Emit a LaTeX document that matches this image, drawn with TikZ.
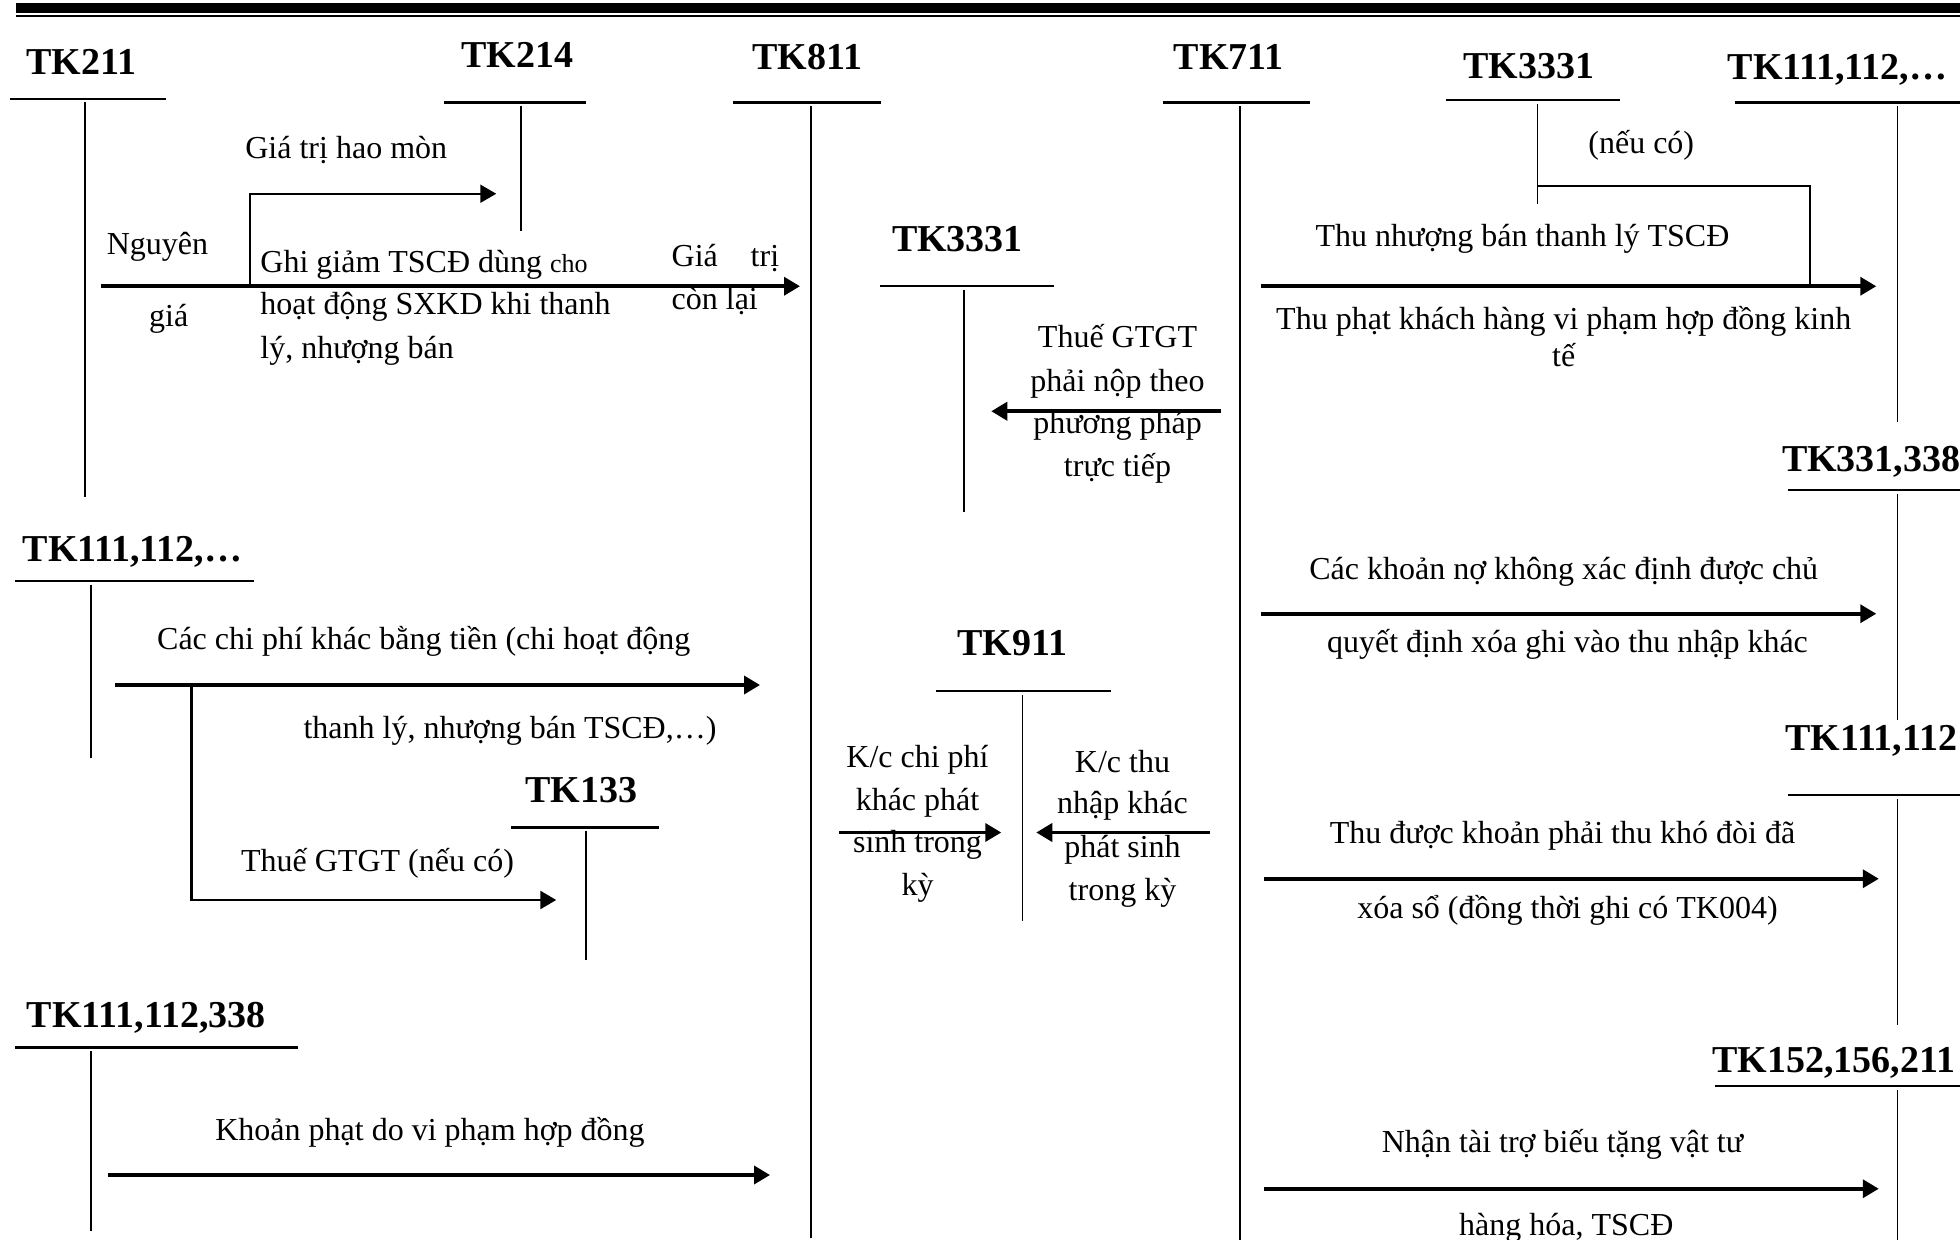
\documentclass[tikz,border=0pt]{standalone}
\usepackage{fontspec}
\setmainfont{Liberation Serif}
\usetikzlibrary{arrows.meta}

% fonts
\newcommand\hdfont{\fontsize{19pt}{22pt}\selectfont\bfseries}
\newcommand\bdfont{\fontsize{16pt}{19pt}\selectfont}

% T-account: name, title, title x, title baseline y, rule left x, rule right x, rule y, stem x, stem bottom y
\newcommand\tacct[9]{%
  \node[hd] (#1) at (#3,#4) {#2};
  \coordinate (#1-l) at (#5,#7);
  \coordinate (#1-r) at (#6,#7);
  \coordinate (#1-t) at (#8,#7+3);
  \coordinate (#1-b) at (#8,#9);
  \draw[uline] (#1-l) -- (#1-r);
  \draw[vline] (#1-t) -- (#1-b);}

\tikzset{
  hd/.style={font=\hdfont, anchor=base, inner sep=0pt},
  lab/.style={font=\bdfont, anchor=base, inner sep=0pt},
  labw/.style={lab, anchor=base west},
  uline/.style={line width=1.2pt},
  vline/.style={line width=0.8pt},
  flow/.style={line width=1.8pt, -{Triangle[length=8pt,width=9pt]}},
  bent/.style={line width=1.1pt, -{Triangle[length=8pt,width=9pt]}},
  tie/.style={line width=0.8pt}
}

\begin{document}
\begin{tikzpicture}[x=0.625pt, y=-0.625pt]
\useasboundingbox (0,0) rectangle (1568,992);

% header rules
\fill (13,2.6) rectangle (1568,10.4);
\fill (13,11.8) rectangle (1568,13.6);

% ---- T-accounts ----
\tacct{a211}{TK211}{65}{60}{8}{133}{79}{68}{398}
\tacct{a214}{TK214}{414}{54}{355}{469}{82}{417}{185}
\tacct{a811}{TK811}{646}{56}{586}{705}{82}{649}{990}
\tacct{a711}{TK711}{983}{56}{930}{1048}{82}{992}{992}
\tacct{a3331t}{TK3331}{1223}{63}{1157}{1296}{80}{1230}{163}
\tacct{a111t}{TK111,112,\ldots}{1470}{64}{1388}{1568}{82}{1518}{338}
\tacct{a3331m}{TK3331}{766}{201}{704}{843}{229}{771}{410}
\tacct{a331}{TK331,338}{1497}{377}{1430}{1568}{392}{1518}{576}
\tacct{a111l}{TK111,112,\ldots}{106}{449}{12}{203}{465}{73}{606}
\tacct{a911}{TK911}{810}{524}{749}{889}{553}{818}{737}
\tacct{a111r}{TK111,112}{1497}{600}{1430}{1568}{636}{1518}{820}
\tacct{a133}{TK133}{465}{642}{409}{527}{662}{469}{768}
\tacct{a338}{TK111,112,338}{117}{822}{12}{238}{838}{73}{985}
\tacct{a152}{TK152,156,211}{1467}{858}{1372}{1568}{869}{1518}{992}

% ---- entries: disposal of fixed assets ----
\coordinate (p1s) at (81,229);   \coordinate (p1e) at (640,229);
\draw[flow] (p1s) -- (p1e);
\coordinate (p2s) at (200,229);  \coordinate (p2e) at (397,155);
\draw[bent] (p2s) |- (p2e);
\node[lab] (l-hm) at (277,127) {Giá trị hao mòn};
\node[lab] (l-ng1) at (126,204) {Nguyên};
\node[lab] (l-ng2) at (135,261) {giá};
\node[labw] (l-gg1) at (208,218) {Ghi giảm TSCĐ dùng {\fontsize{13pt}{15pt}\selectfont cho}};
\node[labw] (l-gg2) at (208,252) {hoạt động SXKD khi thanh};
\node[labw] (l-gg3) at (208,287) {lý, nhượng bán};
\node[labw] (l-gt1) at (537,213) {\makebox[53.75pt][s]{Giá\hfill trị}};
\node[labw] (l-gt2) at (537,248) {còn lại};

% ---- VAT payable, direct method ----
\coordinate (p3s) at (977,329);  \coordinate (p3e) at (793,329);
\draw[flow] (p3s) -- (p3e);
\node[lab] (l-vt1) at (894,278) {Thuế GTGT};
\node[lab] (l-vt2) at (894,313) {phải nộp theo};
\node[lab] (l-vt3) at (894,347) {phương pháp};
\node[lab] (l-vt4) at (894,381) {trực tiếp};

% ---- proceeds from disposal ----
\coordinate (p4a) at (1230,149); \coordinate (p4b) at (1448,229);
\draw[tie] (p4a) -| (p4b);
\coordinate (p5s) at (1009,229); \coordinate (p5e) at (1501,229);
\draw[flow] (p5s) -- (p5e);
\node[lab] (l-nc) at (1313,123) {(nếu có)};
\node[lab] (l-tn) at (1218,197) {Thu nhượng bán thanh lý TSCĐ};
\node[lab] (l-tp1) at (1251,264) {Thu phạt khách hàng vi phạm hợp đồng kinh};
\node[lab] (l-tp2) at (1251,293) {tế};

% ---- written-off payables ----
\coordinate (p6s) at (1009,491); \coordinate (p6e) at (1501,491);
\draw[flow] (p6s) -- (p6e);
\node[lab] (l-kn1) at (1251,464) {Các khoản nợ không xác định được chủ};
\node[lab] (l-kn2) at (1254,522) {quyết định xóa ghi vào thu nhập khác};

% ---- recovered bad debts ----
\coordinate (p7s) at (1011,703); \coordinate (p7e) at (1503,703);
\draw[flow] (p7s) -- (p7e);
\node[lab] (l-kd1) at (1250,675) {Thu được khoản phải thu khó đòi đã};
\node[lab] (l-kd2) at (1254,735) {xóa sổ (đồng thời ghi có TK004)};

% ---- donated goods ----
\coordinate (p8s) at (1011,951); \coordinate (p8e) at (1503,951);
\draw[flow] (p8s) -- (p8e);
\node[lab] (l-tt1) at (1250,922) {Nhận tài trợ biếu tặng vật tư};
\node[lab] (l-tt2) at (1253,988) {hàng hóa, TSCĐ};

% ---- other cash expenses ----
\coordinate (p9s) at (92,548);   \coordinate (p9e) at (608,548);
\draw[flow] (p9s) -- (p9e);
\coordinate (p10s) at (153,548); \coordinate (p10e) at (445,720);
\draw[bent, line width=1.3pt] (p10s) |- (p10e);
\node[lab] (l-cp1) at (339,520) {Các chi phí khác bằng tiền (chi hoạt động};
\node[lab] (l-cp2) at (408,591) {thanh lý, nhượng bán TSCĐ,\ldots)};
\node[lab] (l-vat) at (302,697) {Thuế GTGT (nếu có)};

% ---- closing to TK911 ----
\coordinate (p11s) at (671,666); \coordinate (p11e) at (801,666);
\draw[flow] (p11s) -- (p11e);
\coordinate (p12s) at (968,666); \coordinate (p12e) at (829,666);
\draw[flow] (p12s) -- (p12e);
\node[lab] (l-kc1) at (734,614) {K/c chi phí};
\node[lab] (l-kc2) at (734,648) {khác phát};
\node[lab] (l-kc3) at (734,682) {sinh trong};
\node[lab] (l-kc4) at (734,716) {kỳ};
\node[lab] (l-kt1) at (898,618) {K/c thu};
\node[lab] (l-kt2) at (898,651) {nhập khác};
\node[lab] (l-kt3) at (898,686) {phát sinh};
\node[lab] (l-kt4) at (898,720) {trong kỳ};

% ---- contract penalties ----
\coordinate (p13s) at (86,940);  \coordinate (p13e) at (616,940);
\draw[flow] (p13s) -- (p13e);
\node[lab] (l-kp) at (344,912) {Khoản phạt do vi phạm hợp đồng};
\end{tikzpicture}
\end{document}
